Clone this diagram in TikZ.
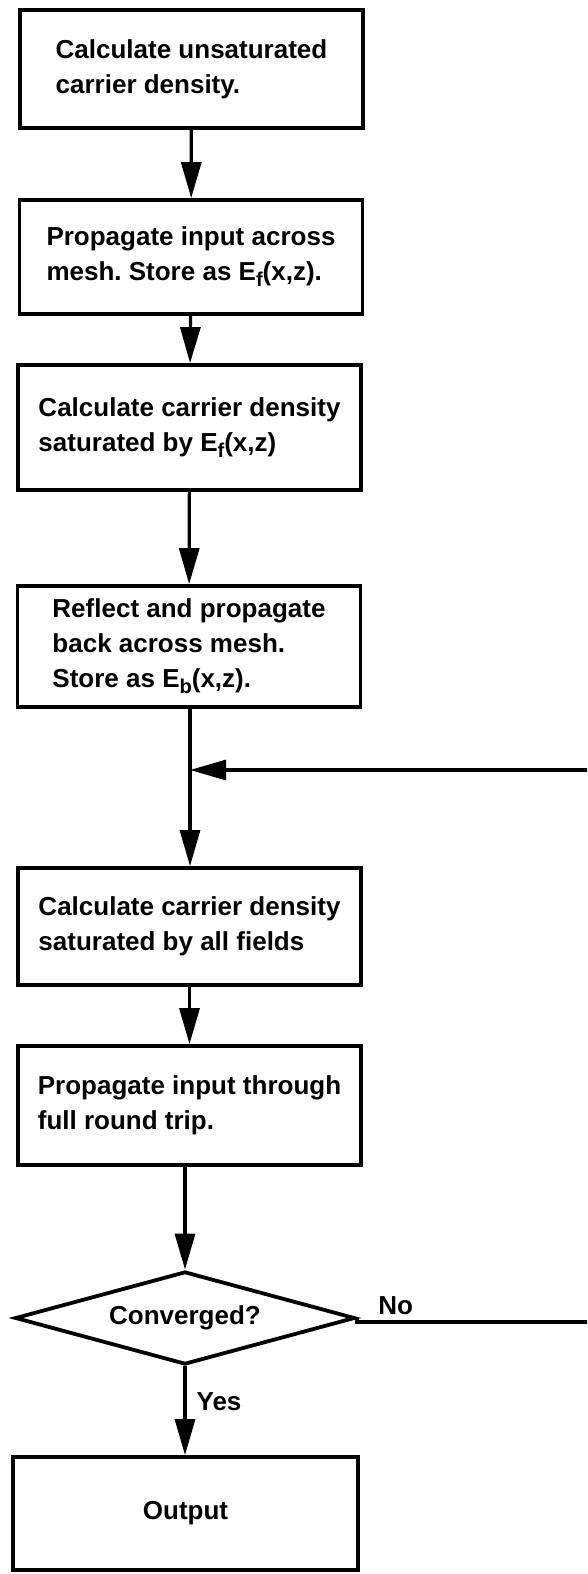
\documentclass[tikz,border=0pt]{standalone}
\usepackage{fontspec}
\setmainfont{Liberation Sans}
\usetikzlibrary{arrows.meta,shapes.geometric}
\frenchspacing
\newcommand{\lowsub}[1]{\raisebox{-6pt}{\fontsize{20}{20}\selectfont #1}}

\begin{document}
\begin{tikzpicture}[x=1pt, y=-1pt,
  every node/.style={font=\fontsize{26}{35}\selectfont\bfseries, inner sep=0pt},
  stepbox/.style={draw, line width=3.8pt, align=left, minimum width=343pt},
  decide/.style={draw, diamond, line width=3.8pt, minimum width=340pt, minimum height=93pt, aspect=3.6},
  flow/.style={line width=3.2pt, -{Triangle[length=36pt, width=20pt]}},
  plain/.style={line width=3.2pt}]
\useasboundingbox (0,0) rectangle (587,1574);
\clip (0,0) rectangle (587,1574);
\node[stepbox, minimum height=118pt] (unsat) at (191.5,69) {Calculate unsaturated\\carrier density.};
\node[stepbox, minimum height=114pt] (prop) at (191,257) {Propagate input across\\mesh. Store as E\lowsub{f}(x,z).};
\node[stepbox, minimum height=125pt] (satf) at (189.5,427.5) {Calculate carrier density\\saturated by E\lowsub{f}(x,z)};
\node[stepbox, minimum height=121pt] (refl) at (189,646.5) {Reflect and propagate\\back across mesh.\\Store as E\lowsub{b}(x,z).};
\node[stepbox, minimum height=117pt] (satall) at (189.5,926.5) {Calculate carrier density\\saturated by all fields};
\node[stepbox, minimum height=119pt] (round) at (189.5,1105.5) {Propagate input through\\full round trip.};
\node[decide] (conv) at (185,1318) {Converged?};
\node[stepbox, minimum width=345pt, minimum height=113pt] (out) at (185.5,1513.5) {Output};
\coordinate (join) at (190,770);
\coordinate (loopR) at (600,1322);
\draw[flow] (unsat) -- (prop);
\draw[flow] (prop) -- (satf);
\draw[flow] (satf) -- (refl);
\draw[flow] (refl.south -| join) -- (satall.north -| join);
\draw[flow] (satall) -- (round);
\draw[flow] (round.south -| conv.north) -- (conv.north);
\draw[flow] (conv.south) -- node[right=10pt, pos=0.4] {Yes} (out.north -| conv.south);
\draw[plain] (conv.east) -- (conv.east |- loopR) -- node[above=6pt, pos=0.16] {No} (loopR) -- (loopR |- join);
\draw[flow] (loopR |- join) -- (join);
\end{tikzpicture}
\end{document}
